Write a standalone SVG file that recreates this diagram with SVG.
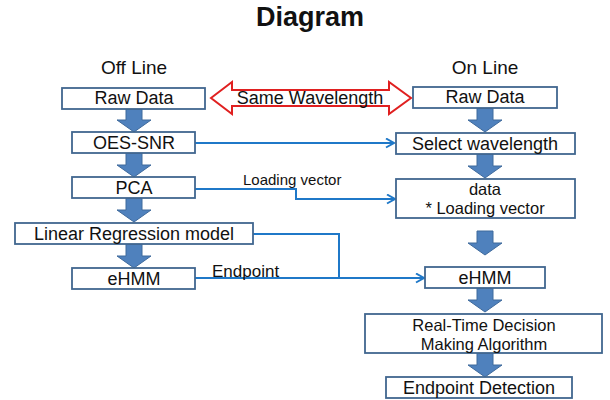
<svg xmlns="http://www.w3.org/2000/svg" width="610" height="400" viewBox="0 0 610 400">
<defs>
<style>
.box{fill:#fff;stroke:#41668f;stroke-width:1.8}
.t{font-family:"Liberation Sans",Arial,sans-serif;font-size:18px;fill:#111;text-anchor:middle}
.t2{font-family:"Liberation Sans",Arial,sans-serif;font-size:16.5px;fill:#111;text-anchor:middle}
.h{font-family:"Liberation Sans",Arial,sans-serif;font-size:19px;fill:#111;text-anchor:middle}
.ttl{font-family:"Liberation Sans",Arial,sans-serif;font-size:27px;font-weight:bold;fill:#111;text-anchor:middle}
.lbl{font-family:"Liberation Sans",Arial,sans-serif;fill:#111}
.blk{fill:#4f81bd;stroke:#3f6a9c;stroke-width:1}
.con{fill:none;stroke:#1f78c8;stroke-width:2}
</style>
<marker id="ah" markerUnits="userSpaceOnUse" markerWidth="12" markerHeight="12" refX="9" refY="5" orient="auto">
<path d="M1,0.5 L9,5 L1,9.5" fill="none" stroke="#1f78c8" stroke-width="2"/>
</marker>
<path id="down" d="M-8,0 H8 V12 H17 L0,24 L-17,12 H-8 Z"/>
</defs>

<text class="ttl" x="310" y="26">Diagram</text>
<text class="h" x="134" y="74">Off Line</text>
<text class="h" x="485" y="74">On Line</text>

<g id="connectors">
<path class="con" d="M195,143 H394" marker-end="url(#ah)"/>
<path class="con" d="M195,189 H296 V199 H395" marker-end="url(#ah)"/>
<path class="con" d="M253,234 H339 V278"/>
<path class="con" d="M195,278 H424" marker-end="url(#ah)"/>
<text class="lbl" x="243" y="185" font-size="15">Loading vector</text>
<text class="lbl" x="212" y="277" font-size="17">Endpoint</text>
</g>

<g id="same-wavelength">
<path d="M211,98 L232,82 V90 H389 V82 L411,98 L389,114 V106 H232 V114 Z" fill="#fff" stroke="#e02020" stroke-width="2" stroke-linejoin="miter"/>
<text class="t" x="310" y="104">Same Wavelength</text>
</g>

<g id="block-arrows">
<use href="#down" class="blk" x="134" y="108"/>
<use href="#down" class="blk" x="134" y="153"/>
<use href="#down" class="blk" x="134" y="198"/>
<use href="#down" class="blk" x="134" y="244"/>
<use href="#down" class="blk" x="485" y="108"/>
<use href="#down" class="blk" x="485" y="154"/>
<use href="#down" class="blk" x="485" y="231"/>
<use href="#down" class="blk" x="485" y="288"/>
<use href="#down" class="blk" x="485" y="353"/>
</g>

<g id="off-raw"><rect class="box" x="62" y="88" width="143" height="21"/><text class="t" x="134" y="104">Raw Data</text></g>
<g id="off-oes"><rect class="box" x="72" y="132" width="123" height="21"/><text class="t" x="134" y="149">OES-SNR</text></g>
<g id="off-pca"><rect class="box" x="72" y="177" width="123" height="21"/><text class="t" x="134" y="194">PCA</text></g>
<g id="off-lr"><rect class="box" x="15" y="223" width="238" height="21"/><text class="t" x="134" y="240">Linear Regression model</text></g>
<g id="off-ehmm"><rect class="box" x="72" y="268" width="123" height="21"/><text class="t" x="134" y="285">eHMM</text></g>

<g id="on-raw"><rect class="box" x="413" y="87" width="144" height="21"/><text class="t" x="485" y="103">Raw Data</text></g>
<g id="on-select"><rect class="box" x="396" y="133" width="179" height="21"/><text class="t" x="485" y="150">Select wavelength</text></g>
<g id="on-data"><rect class="box" x="396" y="179" width="179" height="39"/><text class="t2" x="485" y="195">data</text><text class="t2" x="485" y="214">* Loading vector</text></g>
<g id="on-ehmm"><rect class="box" x="425" y="267" width="120" height="21"/><text class="t" x="485" y="284">eHMM</text></g>
<g id="on-rtd"><rect class="box" x="365" y="314" width="237" height="39"/><text class="t2" x="484" y="331">Real-Time Decision</text><text class="t2" x="484" y="350">Making Algorithm</text></g>
<g id="on-endpoint"><rect class="box" x="386" y="377" width="186" height="21"/><text class="t" x="479" y="394">Endpoint Detection</text></g>
</svg>
